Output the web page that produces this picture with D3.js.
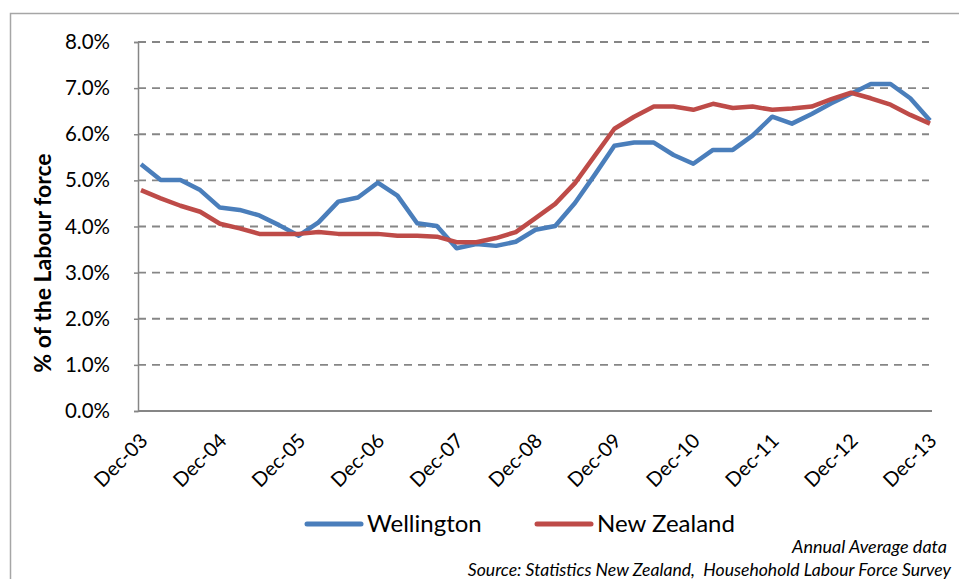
<!DOCTYPE html>
<html>
<head>
<meta charset="utf-8">
<script src="https://cdn.jsdelivr.net/npm/d3@7/dist/d3.min.js"></script>
<style>
  body { margin: 0; background: #fff; }
  #c { width: 959px; height: 579px; }
  text { font-family: Lato, "Open Sans", sans-serif; fill: #000; }
</style>
</head>
<body>
<div id="c"></div>
<script>
"use strict";

const quarters = [
    "Dec-03","Mar-04","Jun-04","Sep-04","Dec-04","Mar-05","Jun-05","Sep-05",
    "Dec-05","Mar-06","Jun-06","Sep-06","Dec-06","Mar-07","Jun-07","Sep-07",
    "Dec-07","Mar-08","Jun-08","Sep-08","Dec-08","Mar-09","Jun-09","Sep-09",
    "Dec-09","Mar-10","Jun-10","Sep-10","Dec-10","Mar-11","Jun-11","Sep-11",
    "Dec-11","Mar-12","Jun-12","Sep-12","Dec-12","Mar-13","Jun-13","Sep-13",
    "Dec-13"]
const tickLabels = ["Dec-03","Dec-04","Dec-05","Dec-06","Dec-07","Dec-08",
    "Dec-09","Dec-10","Dec-11","Dec-12","Dec-13"]
const yTicks = [0,1,2,3,4,5,6,7,8]

const wellington = [
    5.35,5.01,5.01,4.79,4.41,4.36,4.24,4.03,
    3.80,4.09,4.54,4.63,4.95,4.67,4.07,4.01,
    3.53,3.62,3.58,3.67,3.93,4.01,4.51,5.12,
    5.75,5.82,5.82,5.55,5.36,5.66,5.66,5.97,
    6.38,6.23,6.44,6.67,6.88,7.09,7.09,6.78,
    6.30]
const newZealand = [
    4.79,4.61,4.45,4.32,4.06,3.96,3.84,3.84,
    3.84,3.88,3.84,3.84,3.84,3.80,3.80,3.78,
    3.66,3.66,3.75,3.88,4.18,4.49,4.94,5.53,
    6.12,6.38,6.60,6.60,6.53,6.66,6.57,6.60,
    6.53,6.56,6.60,6.76,6.90,6.78,6.64,6.42,
    6.23]

const series = [
    {name: "Wellington", values: wellington, color: "#4a7ebb"},
    {name: "New Zealand", values: newZealand, color: "#be4b48"}
]

window.onload = function() {
    drawChart()
}

function drawChart() {
    const left = 138, right = 932, top = 42, bottom = 411

    let svg = d3.select('#c').append('svg')
        .attr('width', 959).attr('height', 579)

    // outer chart border
    svg.append('rect')
        .attr('x', 10.5).attr('y', 13.5)
        .attr('width', 960).attr('height', 580)
        .attr('fill', 'none')
        .attr('stroke', '#a6a6a6')
        .attr('stroke-width', 1.5)

    let xScale = d3.scalePoint()
        .domain(quarters)
        .range([141, 930])
    let yScale = d3.scaleLinear()
        .domain([0, 8])
        .range([bottom, top])

    // gridlines
    svg.append('g')
        .selectAll('line')
        .data(yTicks.filter(d => d > 0))
        .enter()
        .append('line')
            .attr('x1', left).attr('x2', 929)
            .attr('y1', d => yScale(d)).attr('y2', d => yScale(d))
            .attr('stroke', '#868686')
            .attr('stroke-width', 1.8)
            .attr('stroke-dasharray', '8,6')

    // y axis
    let yAxis = svg.append('g')
        .attr('transform', 'translate(' + left + ',0)')
        .call(d3.axisLeft(yScale)
            .tickValues(yTicks)
            .tickSize(4)
            .tickPadding(24)
            .tickFormat(d => d3.format(".1f")(d) + "%"))
    yAxis.select('.domain').attr('stroke', '#868686').attr('stroke-width', 1.5)
    yAxis.selectAll('.tick line').attr('stroke', '#868686').attr('stroke-width', 1.5)
    yAxis.selectAll('.tick text')
        .style('font-size', '20.5px')
        .attr('fill', '#000')

    // x axis line
    svg.append('line')
        .attr('x1', left).attr('x2', right)
        .attr('y1', bottom).attr('y2', bottom)
        .attr('stroke', '#868686')
        .attr('stroke-width', 1.8)

    // x labels
    svg.append('g')
        .selectAll('text')
        .data(tickLabels)
        .enter()
        .append('text')
            .text(d => d)
            .attr('text-anchor', 'end')
            .style('font-size', '20px')
            .attr('transform', d => 'translate(' + (xScale(d) + 8) + ',442) rotate(-45)')

    // y title
    svg.append('text')
        .text('% of the Labour force')
        .attr('text-anchor', 'middle')
        .style('font-size', '23px')
        .style('font-weight', 'bold')
        .attr('transform', 'translate(51,263) rotate(-90)')

    // lines
    let line = d3.line()
        .x((d, i) => xScale(quarters[i]))
        .y(d => yScale(d))
    series.forEach(s => {
        svg.append('path')
            .datum(s.values)
            .attr('fill', 'none')
            .attr('stroke', s.color)
            .attr('stroke-width', 4.5)
            .attr('stroke-linejoin', 'round')
            .attr('d', line)
    })

    // legend
    const legendX = [307, 537]
    series.forEach((s, i) => {
        let g = svg.append('g')
            .attr('transform', 'translate(' + legendX[i] + ',524)')
        g.append('line')
            .attr('x1', 0).attr('x2', 54)
            .attr('y1', 0).attr('y2', 0)
            .attr('stroke', s.color)
            .attr('stroke-width', 5)
            .attr('stroke-linecap', 'round')
        g.append('text')
            .text(s.name)
            .attr('x', 60).attr('y', 8)
            .style('font-size', '24px')
    })

    // notes
    svg.append('text')
        .text('Annual Average data')
        .attr('x', 947).attr('y', 553)
        .attr('text-anchor', 'end')
        .style('font-size', '18px')
        .style('font-style', 'italic')
    svg.append('text')
        .text('Source: Statistics New Zealand,  Househohold Labour Force Survey')
        .attr('x', 951).attr('y', 576)
        .attr('text-anchor', 'end')
        .style('font-size', '17.6px')
        .style('font-style', 'italic')
        .style('white-space', 'pre')
}
</script>
</body>
</html>
